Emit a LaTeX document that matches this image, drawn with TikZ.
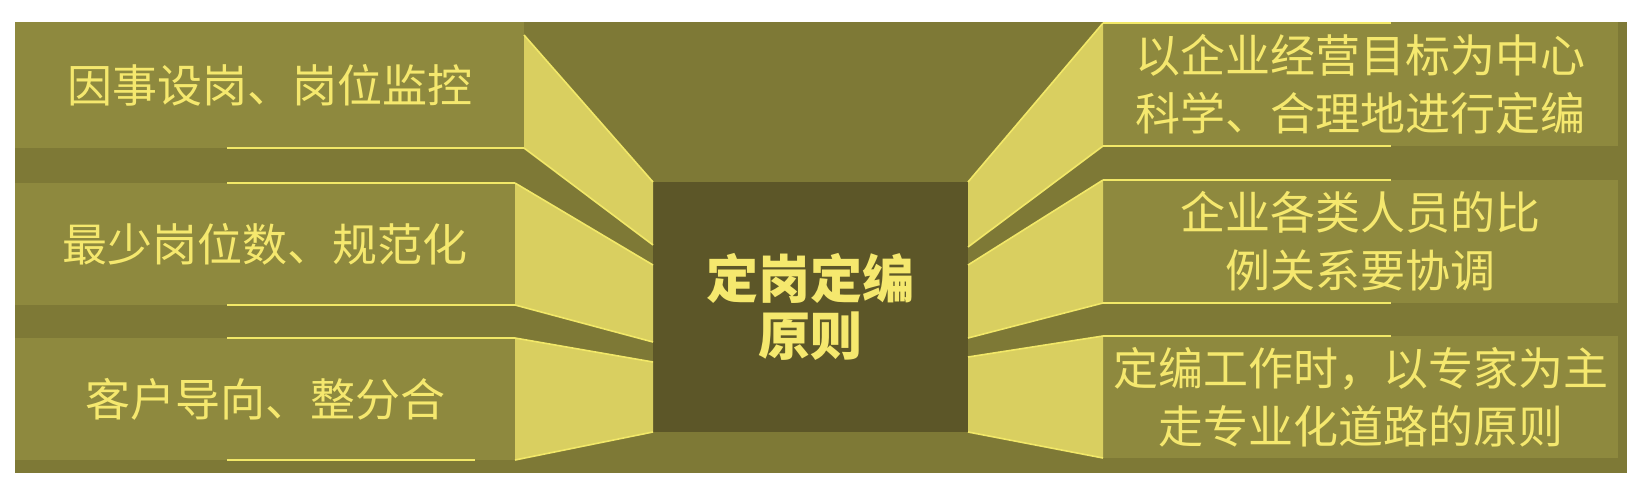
\documentclass[tikz,border=0pt]{standalone}
\usepackage{fontspec}
\setmainfont{Noto Sans CJK SC}
\definecolor{bgc}{HTML}{7E7936}
\definecolor{boxc}{HTML}{8E893E}
\definecolor{wedgec}{HTML}{D9CF60}
\definecolor{edgec}{HTML}{F2E868}
\definecolor{cenc}{HTML}{5C5628}
\definecolor{txtc}{HTML}{F5E86E}
\begin{document}
\begin{tikzpicture}[x=1pt,y=-1pt,
  box/.style={fill=boxc,inner sep=0pt,outer sep=0pt,anchor=north west,text=txtc,
    font=\fontsize{45}{58}\selectfont,align=center},
  cbox/.style={fill=cenc,inner sep=0pt,outer sep=0pt,anchor=north west,text=txtc,
    font=\fontsize{52}{57}\selectfont\bfseries,align=center},
  wedge/.style={fill=wedgec},
  wedgeedge/.style={draw=edgec,line width=1.6pt},
  rule/.style={draw=edgec,line width=2pt}]
\useasboundingbox (0,0) rectangle (1640,483);
\fill[white] (0,0) rectangle (1640,483);
\fill[bgc] (15,22) rectangle (1627,473);
% left boxes
\node[box,minimum width=509pt,minimum height=126pt] (L1) at (15,22) {因事设岗、岗位监控};
\node[box,minimum width=500pt,minimum height=122pt] (L2) at (15,183) {最少岗位数、规范化};
\node[box,minimum width=500pt,minimum height=122pt] (L3) at (15,338) {客户导向、整分合};
% right boxes
\node[box,minimum width=515pt,minimum height=124pt] (R1) at (1103,22) {以企业经营目标为中心\\科学、合理地进行定编};
\node[box,minimum width=515pt,minimum height=123pt] (R2) at (1103,180) {企业各类人员的比\\例关系要协调};
\node[box,minimum width=515pt,minimum height=122pt] (R3) at (1103,336) {定编工作时，以专家为主\\走专业化道路的原则};
% centre
\node[cbox,minimum width=315pt,minimum height=250pt] (C) at (653,182) {定岗定编\\原则};
% named wedge points
\coordinate (l1a) at (524,35);
\coordinate (l1b) at (653,245);
\coordinate (l2a) at (653,265);
\coordinate (l2b) at (653,342);
\coordinate (l3a) at (653,362);
\coordinate (r1a) at (1103,23);
\coordinate (r1b) at (968,247);
\coordinate (r2a) at (968,265);
\coordinate (r2b) at (968,338);
\coordinate (r3a) at (968,357);
% left wedges
\fill[wedge] (l1a) -- (C.north west) -- (l1b) -- (L1.south east) -- cycle;
\fill[wedge] (L2.north east) -- (l2a) -- (l2b) -- (L2.south east) -- cycle;
\fill[wedge] (L3.north east) -- (l3a) -- (C.south west) -- (L3.south east) -- cycle;
% right wedges
\fill[wedge] (r1a) -- (C.north east) -- (r1b) -- (R1.south west) -- cycle;
\fill[wedge] (R2.north west) -- (r2a) -- (r2b) -- (R2.south west) -- cycle;
\fill[wedge] (R3.north west) -- (r3a) -- (C.south east) -- (R3.south west) -- cycle;
% wedge edges
\draw[wedgeedge] (l1a) -- (C.north west);
\draw[wedgeedge] (L1.south east) -- (l1b);
\draw[wedgeedge] (L2.north east) -- (l2a);
\draw[wedgeedge] (L2.south east) -- (l2b);
\draw[wedgeedge] (L3.north east) -- (l3a);
\draw[wedgeedge] (L3.south east) -- (C.south west);
\draw[wedgeedge] (r1a) -- (C.north east);
\draw[wedgeedge] (R1.south west) -- (r1b);
\draw[wedgeedge] (R2.north west) -- (r2a);
\draw[wedgeedge] (R2.south west) -- (r2b);
\draw[wedgeedge] (R3.north west) -- (r3a);
\draw[wedgeedge] (R3.south west) -- (C.south east);
% horizontal rules
\coordinate (lx) at (227,0);
\draw[rule] (L1.south east) -- (L1.south east -| lx);
\draw[rule] (L2.north east) -- (L2.north east -| lx);
\draw[rule] (L2.south east) -- (L2.south east -| lx);
\draw[rule] (L3.north east) -- (L3.north east -| lx);
\coordinate (lx3) at (475,0);
\draw[rule] (L3.south east -| lx3) -- (L3.south east -| lx);
\coordinate (rx) at (1391,0);
\draw[rule] (r1a) -- (r1a -| rx);
\draw[rule] (R1.south west) -- (R1.south west -| rx);
\draw[rule] (R2.north west) -- (R2.north west -| rx);
\draw[rule] (R2.south west) -- (R2.south west -| rx);
\draw[rule] (R3.north west) -- (R3.north west -| rx);
\end{tikzpicture}
\end{document}
